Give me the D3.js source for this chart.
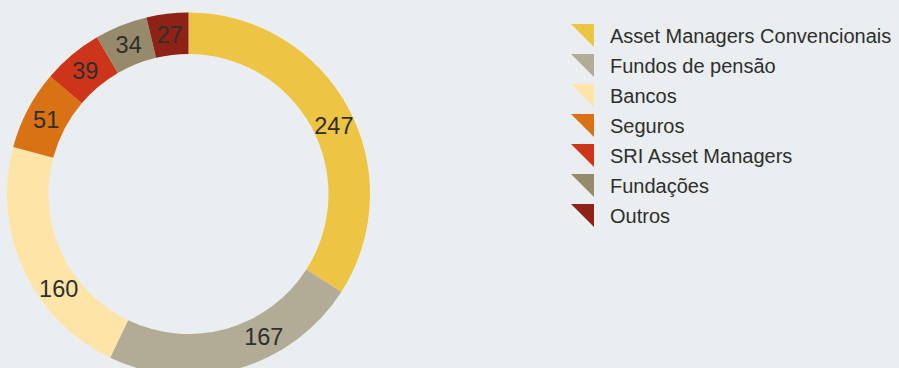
<!DOCTYPE html>
<html>
<head>
<meta charset="utf-8">
<script src="https://cdn.jsdelivr.net/npm/d3@7"></script>
<style>
  html, body { margin: 0; padding: 0; background: #eaeef0; }
  svg { display: block; }
  text { font-family: "Liberation Sans", Arial, Helvetica, sans-serif; }
</style>
</head>
<body>
<svg id="chart" width="899" height="368"></svg>
<script>
// Investor types and counts
const categories = [
  "Asset Managers Convencionais",
  "Fundos de pensão",
  "Bancos",
  "Seguros",
  "SRI Asset Managers",
  "Fundações",
  "Outros"
];
const values = [247, 167, 160, 51, 39, 34, 27];
const colors = ["#edc443", "#b2ab96", "#ffe4a8", "#d87214", "#cc3519", "#968a6b", "#8e2216"];

const width = 899, height = 368;
const cx = 188.5, cy = 194;
const outerR = 181.5, innerR = 140;

const svg = d3.select("#chart");

const data = categories.map((c, i) => ({ name: c, value: values[i], color: colors[i] }));

const pie = d3.pie().value(d => d.value).sort(null);
const arc = d3.arc().innerRadius(innerR).outerRadius(outerR);
const arcs = pie(data);

const g = svg.append("g").attr("transform", `translate(${cx},${cy})`);

g.selectAll("path.slice")
  .data(arcs)
  .enter().append("path")
  .attr("class", "slice")
  .attr("d", arc)
  .attr("fill", d => d.data.color);

// Value labels sit on the ring; a few are turned slightly along it
// so the lower ones stay clear of the bottom edge.
const labelTurn = { "Asset Managers Convencionais": 0.06, "Fundos de pensão": -0.21, "Bancos": -0.2 };
const labelArc = d3.arc().innerRadius(innerR).outerRadius(outerR);
g.selectAll("text.value")
  .data(arcs)
  .enter().append("text")
  .attr("class", "value")
  .attr("transform", d => {
    const t = labelTurn[d.data.name] || 0;
    const mid = (d.startAngle + d.endAngle) / 2 + t;
    const c = labelArc.centroid({ startAngle: mid, endAngle: mid });
    return `translate(${c[0]},${c[1]})`;
  })
  .attr("text-anchor", "middle")
  .attr("dy", "0.36em")
  .attr("font-size", 23.5)
  .attr("fill", "#2e2e2e")
  .text(d => d.data.value);

// Legend with triangular swatches
const legend = svg.append("g").attr("transform", "translate(571,24)");
const rowH = 30;
const items = legend.selectAll("g.item")
  .data(data)
  .enter().append("g")
  .attr("class", "item")
  .attr("transform", (d, i) => `translate(0,${i * rowH})`);

items.append("path")
  .attr("d", "M0,0 L23,0 L23,23 Z")
  .attr("fill", d => d.color);

items.append("text")
  .attr("x", 39)
  .attr("y", 12)
  .attr("dy", "0.36em")
  .attr("font-size", 20)
  .attr("fill", "#2e2e2e")
  .text(d => d.name);
</script>
</body>
</html>
